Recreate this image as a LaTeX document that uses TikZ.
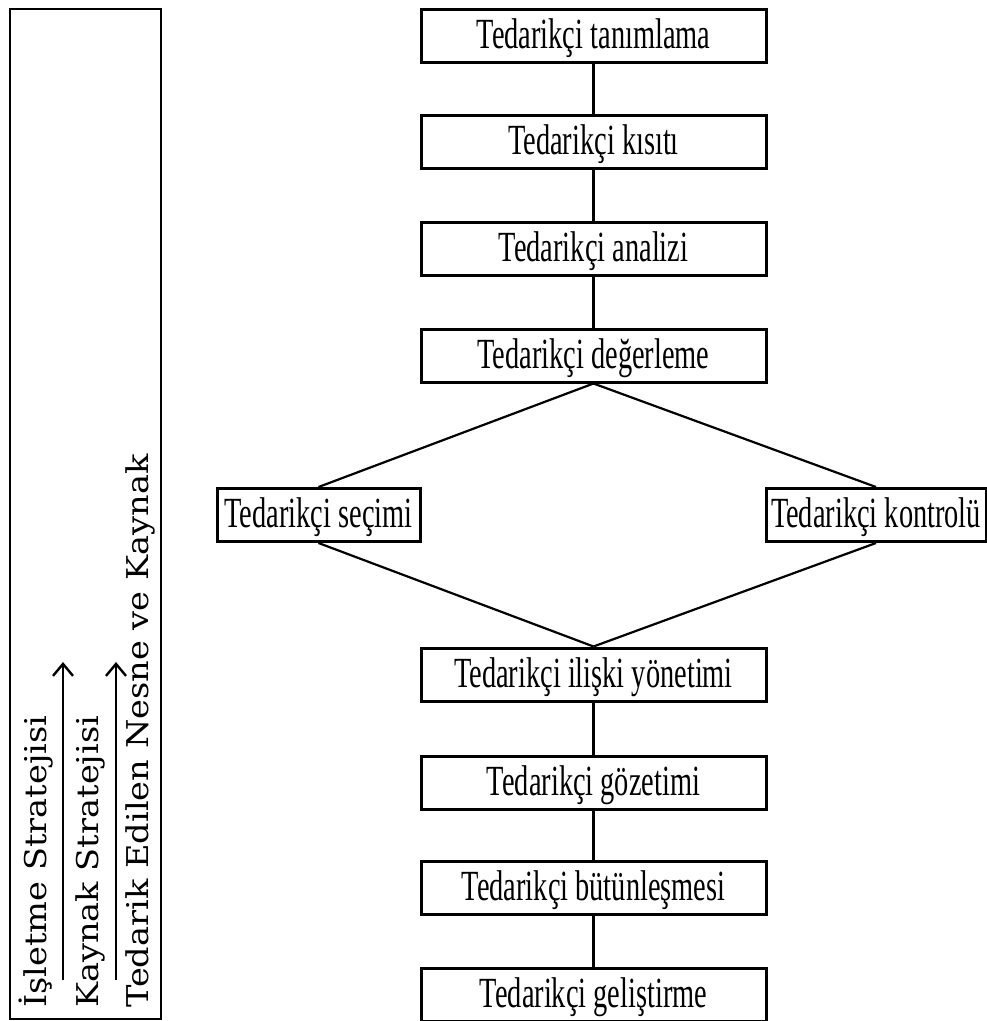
\documentclass[tikz,border=0pt]{standalone}
\usepackage{fontspec}
\usetikzlibrary{arrows.meta}
\newfontfamily\boxfont[FakeStretch=0.66]{Liberation Serif}
\newfontfamily\sidefont[FakeStretch=1.12]{DejaVu Serif}

\begin{document}
\begin{tikzpicture}[x=1pt,y=-1pt,
    stage/.style={draw, line width=3pt, minimum width=345, minimum height=53,
      inner sep=0pt, text height=28.5pt, text depth=3pt,
      font=\boxfont\fontsize{43}{46}\selectfont},
    link/.style={line width=2.2pt},
    sidelabel/.style={rotate=90, anchor=base west, inner sep=0pt,
      font=\sidefont\fontsize{30}{33}\selectfont},
    flowup/.style={line width=2.4pt, -{Straight Barb[length=12pt,width=20pt,line width=2.4pt]}}]
  \useasboundingbox (0,0) rectangle (987,1021);
  % left frame with the three levels
  \node[draw, line width=2.6pt, minimum width=151, minimum height=1010, inner sep=0pt] (frame) at (85.5,514) {};
  \node[sidelabel] (isl) at (46,1008) {İşletme Stratejisi};
  \node[sidelabel] (kay) at (98,1008) {Kaynak Stratejisi};
  \node[sidelabel] (ted) at (148,1008) {Tedarik Edilen Nesne ve Kaynak};
  \coordinate (upa1) at (63,980);
  \coordinate (upb1) at (63,662);
  \coordinate (upa2) at (116,980);
  \coordinate (upb2) at (116,662);
  \draw[flowup] (upa1) -- (upb1);
  \draw[flowup] (upa2) -- (upb2);
  % main chain
  \node[stage] (tanim) at (593.5,36) {Tedarikçi tanımlama};
  \node[stage] (kisit) at (593.5,142) {Tedarikçi kısıtı};
  \node[stage] (analiz) at (593.5,249) {Tedarikçi analizi};
  \node[stage] (deger) at (593.5,355.5) {Tedarikçi değerleme};
  \node[stage, minimum width=203] (secim) at (318.5,515) {Tedarikçi seçimi};
  \node[stage, minimum width=220] (kontrol) at (876,515) {Tedarikçi kontrolü};
  \node[stage] (iliski) at (593.5,674.5) {Tedarikçi ilişki yönetimi};
  \node[stage] (gozet) at (593.5,782.5) {Tedarikçi gözetimi};
  \node[stage] (butun) at (593.5,888) {Tedarikçi bütünleşmesi};
  \node[stage] (gelis) at (593.5,994.5) {Tedarikçi geliştirme};
  \draw[link] (tanim) -- (kisit);
  \draw[link] (kisit) -- (analiz);
  \draw[link] (analiz) -- (deger);
  \draw[link] (deger.south) -- (secim.north);
  \draw[link] (deger.south) -- (kontrol.north);
  \draw[link] (secim.south) -- (iliski.north);
  \draw[link] (kontrol.south) -- (iliski.north);
  \draw[link] (iliski) -- (gozet);
  \draw[link] (gozet) -- (butun);
  \draw[link] (butun) -- (gelis);
\end{tikzpicture}
\end{document}
